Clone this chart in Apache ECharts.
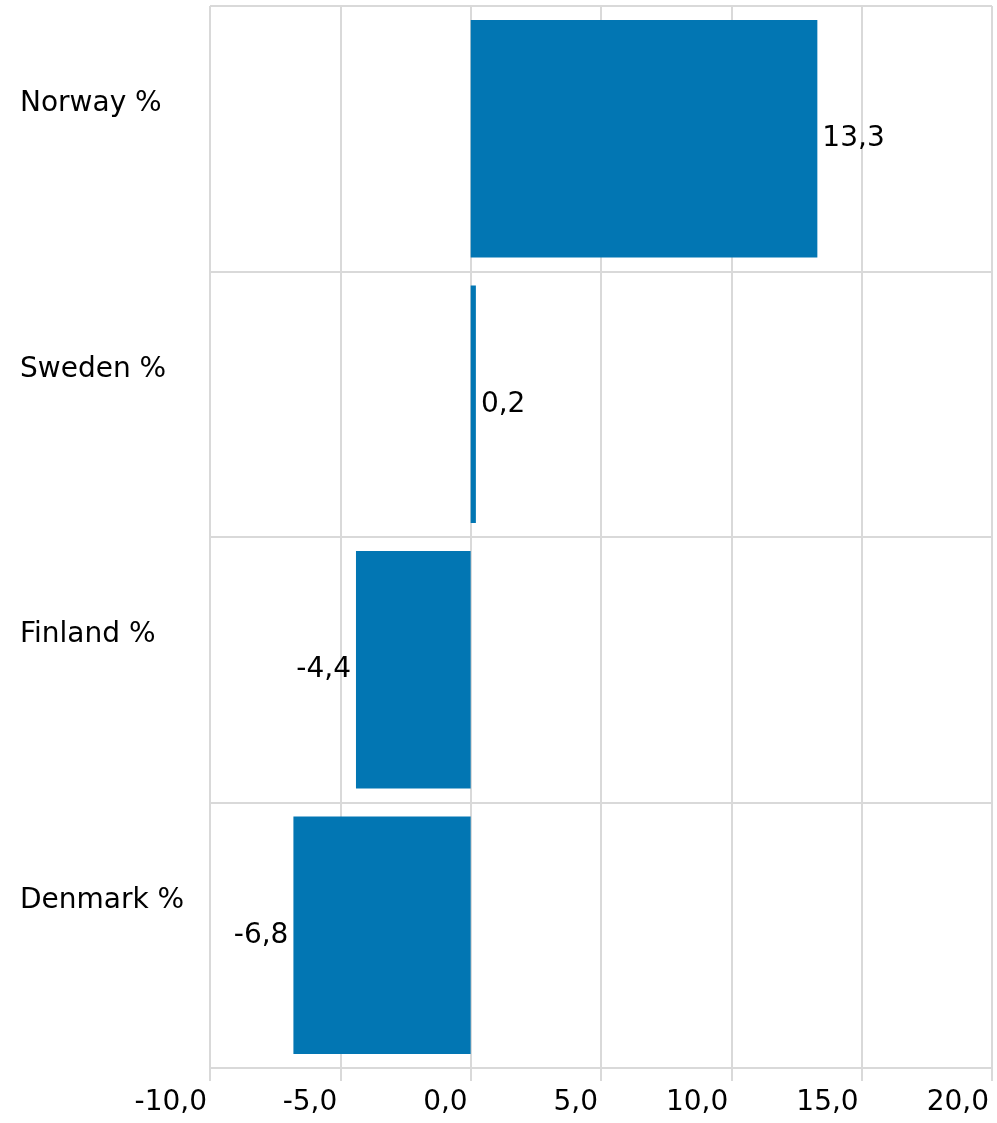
<!DOCTYPE html>
<html>
<head>
<meta charset="utf-8">
<script src="https://cdn.jsdelivr.net/npm/echarts@6/dist/echarts.min.js"></script>
<style>
html,body{margin:0;padding:0;background:#fff;}
#chart{width:997px;height:1123px;}
</style>
</head>
<body>
<div id="chart"></div>
<script>
const categories = ['Norway %', 'Sweden %', 'Finland %', 'Denmark %'];
const values = [13.3, 0.2, -4.4, -6.8];
const xMin = -10, xMax = 20, xStep = 5;

const fmt = v => v.toFixed(1).replace('.', ',');
const FONT = 'DejaVu Sans';
const GRID = '#d9d9d9';
const FS = 28;

const chart = echarts.init(document.getElementById('chart'));
chart.setOption({
  animation: false,
  backgroundColor: '#fff',
  textStyle: { fontFamily: FONT },
  grid: { left: 210, right: 5, top: 6, bottom: 55, containLabel: false, outerBoundsMode: 'none' },
  xAxis: {
    type: 'value',
    min: xMin, max: xMax, interval: xStep,
    axisLine: { show: true, lineStyle: { color: GRID, width: 2 } },
    axisTick: { show: true, length: 13, lineStyle: { color: GRID, width: 2 } },
    splitLine: { show: true, lineStyle: { color: GRID, width: 2 } },
    axisLabel: {
      color: '#000', fontSize: FS, fontFamily: FONT, margin: 21,
      align: 'right', padding: [0, 3, 0, 0],
      hideOverlap: false, showMinLabel: true, showMaxLabel: true,
      formatter: v => fmt(v)
    }
  },
  yAxis: {
    type: 'category',
    inverse: true,
    data: categories,
    axisLine: { show: true, lineStyle: { color: GRID, width: 2 } },
    axisTick: { show: true, length: 14, lineStyle: { color: GRID, width: 2 } },
    splitLine: { show: true, lineStyle: { color: GRID, width: 2 } },
    axisLabel: {
      color: '#000', fontSize: FS, fontFamily: FONT,
      align: 'left', margin: 190,
      formatter: v => '{a|' + v + '}\n{b| }',
      rich: {
        a: { fontSize: FS, fontFamily: FONT, color: '#000', lineHeight: 32, align: 'left' },
        b: { fontSize: FS, lineHeight: 70 }
      }
    }
  },
  series: [{
    type: 'bar',
    data: values.map(v => ({
      value: v,
      label: { position: v >= 0 ? 'right' : 'left' }
    })),
    barCategoryGap: '10.5%',
    itemStyle: { color: '#0276b3' },
    label: {
      show: true, color: '#000', fontSize: FS, fontFamily: FONT, distance: 5,
      formatter: p => fmt(p.value)
    }
  }]
});
</script>
</body>
</html>
